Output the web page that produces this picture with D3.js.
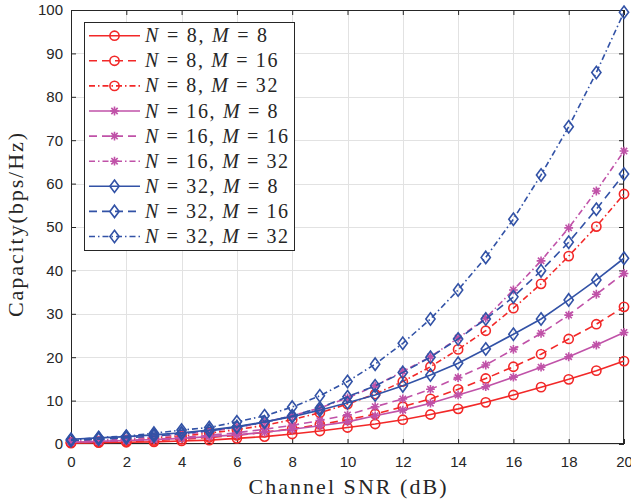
<!DOCTYPE html>
<html><head><meta charset="utf-8">
<script src="https://cdn.jsdelivr.net/npm/d3@7"></script>
<style>body{margin:0;background:#fff}svg{display:block}</style>
</head><body>
<script>
const snr = d3.range(0, 21);
const xTicks = [0,2,4,6,8,10,12,14,16,18,20];
const yTicks = [0,10,20,30,40,50,60,70,80,90,100];
const legendN = [8,8,8,16,16,16,32,32,32];
const legendM = [8,16,32,8,16,32,8,16,32];
const N8M8   = [0.2,0.3,0.4,0.5,0.7,0.9,1.3,1.7,2.3,3.0,3.8,4.6,5.6,6.8,8.1,9.6,11.3,13.1,14.9,16.9,19.1];
const N8M16  = [0.3,0.4,0.6,0.8,1.1,1.5,2.0,2.7,3.5,4.5,5.6,6.9,8.6,10.4,12.6,15.1,17.8,20.7,24.2,27.6,31.6];
const N8M32  = [0.4,0.6,0.9,1.3,1.8,2.5,3.3,4.3,5.6,7.2,9.2,11.5,14.4,17.8,21.8,26.1,31.3,36.9,43.3,50.1,57.6];
const N16M8  = [0.4,0.6,0.8,1.0,1.3,1.7,2.1,2.7,3.4,4.2,5.1,6.5,7.8,9.4,11.3,13.2,15.4,17.7,20.1,22.8,25.7];
const N16M16 = [0.4,0.6,0.8,1.1,1.5,2.0,2.6,3.4,4.3,5.4,6.7,8.6,10.4,12.6,15.3,18.2,21.8,25.5,29.7,34.5,39.3];
const N16M32 = [0.6,0.9,1.2,1.6,2.2,2.9,3.8,5.0,6.5,8.3,10.6,13.4,16.7,20.1,24.4,29.0,35.5,42.2,49.8,58.3,67.5];
const N32M8  = [1.1,1.4,1.7,2.1,2.6,3.2,4.0,5.1,6.3,7.8,9.5,11.3,13.4,15.9,18.6,21.9,25.3,28.8,33.2,37.8,42.8];
const N32M16 = [0.8,1.1,1.4,1.8,2.4,3.0,3.9,5.0,6.5,8.3,10.9,13.4,16.5,20.0,24.2,28.8,33.9,39.9,46.5,54.1,62.2];
const N32M32 = [0.9,1.5,1.8,2.5,3.2,3.8,5.1,6.5,8.5,11.1,14.4,18.4,23.2,28.8,35.5,43.0,51.8,62.0,73.1,85.6,99.5];
const allValues = [N8M8,N8M16,N8M32,N16M8,N16M16,N16M32,N32M8,N32M16,N32M32];

const W = 631, H = 504;
const L = 71, R = 624, T = 10, B = 444;
const colors = {8:"#f22828", 16:"#c052a8", 32:"#3252a6"};
const markerOf = {8:"circle", 16:"star", 32:"diamond"};
const dashOf = {8:null, 16:"8,5", 32:"6,3,1.5,3"};

const svg = d3.select("body").append("svg").attr("width", W).attr("height", H);
const x = d3.scaleLinear().domain([0,20]).range([L,R]);
const y = d3.scaleLinear().domain([0,100]).range([B,T]);

// grid
const grid = svg.append("g").attr("stroke","#e2e2e2").attr("stroke-width",1);
grid.selectAll(".gx").data(xTicks).join("line")
  .attr("x1",d=>Math.round(x(d))+0.5).attr("x2",d=>Math.round(x(d))+0.5).attr("y1",T).attr("y2",B);
grid.selectAll(".gy").data(yTicks).join("line")
  .attr("y1",d=>Math.round(y(d))+0.5).attr("y2",d=>Math.round(y(d))+0.5).attr("x1",L).attr("x2",R);

// axes
const axisColor = "#262626";
function styleAxis(g){
  g.select(".domain").remove();
  g.selectAll("line").attr("stroke",axisColor);
  g.selectAll("text").attr("fill",axisColor).attr("font-family","'Liberation Sans', Arial, sans-serif").attr("font-size",15);
}
svg.append("g").attr("transform",`translate(0,${B})`)
  .call(d3.axisBottom(x).tickValues(xTicks).tickSizeInner(-5).tickSizeOuter(0).tickPadding(12)).call(styleAxis);
svg.append("g").attr("transform",`translate(0,${T})`)
  .call(d3.axisTop(x).tickValues(xTicks).tickSizeInner(-5).tickSizeOuter(0).tickFormat("")).call(styleAxis);
svg.append("g").attr("transform",`translate(${L},0)`)
  .call(d3.axisLeft(y).tickValues(yTicks).tickSizeInner(-5).tickSizeOuter(0).tickPadding(8)).call(styleAxis);
svg.append("g").attr("transform",`translate(${R},0)`)
  .call(d3.axisRight(y).tickValues(yTicks).tickSizeInner(-5).tickSizeOuter(0).tickFormat("")).call(styleAxis);
svg.append("rect").attr("x",L+0.5).attr("y",T+0.5).attr("width",R-L-1).attr("height",B-T-1)
  .attr("fill","none").attr("stroke",axisColor).attr("stroke-width",1);

// markers
function drawMarker(g, type, cx, cy, color){
  if(type==="circle"){
    g.append("circle").attr("cx",cx).attr("cy",cy).attr("r",4.6)
      .attr("fill","none").attr("stroke",color).attr("stroke-width",1.6);
  } else if(type==="diamond"){
    g.append("path").attr("d",`M${cx},${cy-6.2}L${cx+4.6},${cy}L${cx},${cy+6.2}L${cx-4.6},${cy}Z`)
      .attr("fill","none").attr("stroke",color).attr("stroke-width",1.6);
  } else {
    const r = 4.4, d = r*0.72;
    g.append("path").attr("d",`M${cx},${cy-r}V${cy+r}M${cx-r},${cy}H${cx+r}M${cx-d},${cy-d}L${cx+d},${cy+d}M${cx-d},${cy+d}L${cx+d},${cy-d}`)
      .attr("fill","none").attr("stroke",color).attr("stroke-width",1.6);
  }
}

const line = d3.line().x((d,i)=>x(snr[i])).y(d=>y(d));
const plot = svg.append("g");
allValues.forEach((vals, k)=>{
  const n = legendN[k], m = legendM[k];
  const c = colors[n];
  const p = plot.append("path").attr("d", line(vals)).attr("fill","none")
    .attr("stroke", c).attr("stroke-width",1.6);
  if(dashOf[m]) p.attr("stroke-dasharray", dashOf[m]);
  const mg = plot.append("g");
  vals.forEach((v,i)=>drawMarker(mg, markerOf[n], x(snr[i]), y(v), c));
});

// legend
const lg = svg.append("g");
lg.append("rect").attr("x",84.5).attr("y",22.5).attr("width",210).attr("height",228)
  .attr("fill","#fff").attr("stroke",axisColor).attr("stroke-width",1);
const serif = "'Liberation Serif','Times New Roman',serif";
legendN.forEach((n,k)=>{
  const m = legendM[k], c = colors[n];
  const yy = 35.7 + k*25.1;
  const p = lg.append("line").attr("x1",89).attr("x2",140).attr("y1",yy).attr("y2",yy)
    .attr("stroke",c).attr("stroke-width",1.6);
  if(dashOf[m]) p.attr("stroke-dasharray", dashOf[m]);
  drawMarker(lg, markerOf[n], 114.5, yy, c);
  const t = lg.append("text").attr("x",145).attr("y",yy+6.5).attr("font-family",serif)
    .attr("font-size",20).attr("fill","#262626").attr("xml:space","preserve");
  t.append("tspan").attr("font-style","italic").text("N");
  t.append("tspan").text(` = ${n}, `);
  t.append("tspan").attr("font-style","italic").text("M");
  t.append("tspan").text(` = ${m}`);
  const extraDigits = String(n).length + String(m).length - 2;
  t.attr("textLength", 122 + 10.5*extraDigits).attr("lengthAdjust","spacing");
});

// axis titles
svg.append("text").attr("x",(L+R)/2).attr("y",494).attr("text-anchor","middle")
  .attr("font-family",serif).attr("font-size",22).attr("fill","#262626")
  .attr("textLength",198).attr("lengthAdjust","spacing").text("Channel SNR (dB)");
svg.append("text").attr("transform","translate(23,225) rotate(-90)").attr("text-anchor","middle")
  .attr("font-family",serif).attr("font-size",22).attr("fill","#262626")
  .attr("textLength",184).attr("lengthAdjust","spacing").text("Capacity(bps/Hz)");
</script>
</body></html>
